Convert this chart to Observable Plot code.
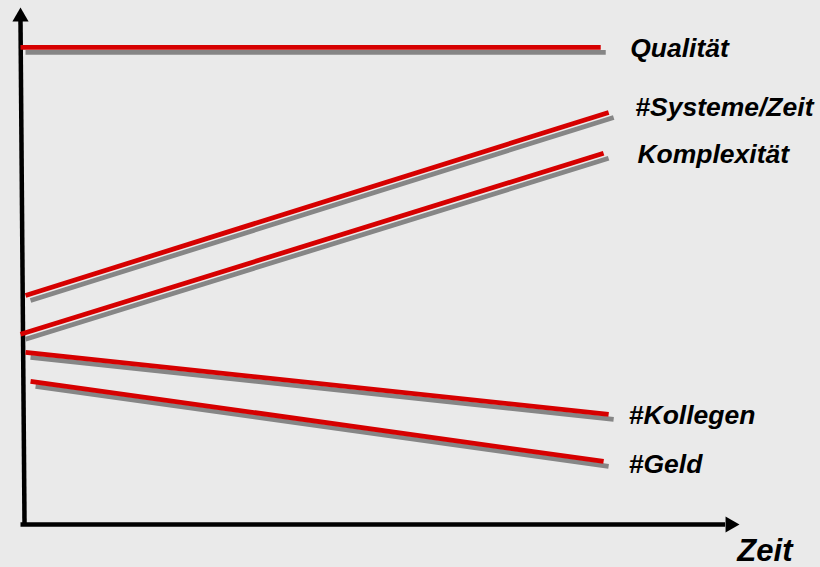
<!DOCTYPE html>
<html>
<head>
<meta charset="utf-8">
<script src="https://cdn.jsdelivr.net/npm/d3@7"></script>
<script src="https://cdn.jsdelivr.net/npm/@observablehq/plot@0.6"></script>
<style>
  html, body { margin: 0; padding: 0; background: #eaeaea; }
  #chart svg { display: block; }
</style>
</head>
<body>
<div id="chart"></div>
<script>
// Series (conceptual trends over time; arbitrary units 0–10)
const seriesNames  = ["Qualität", "#Systeme/Zeit", "Komplexität", "#Kollegen", "#Geld"];
const startTime    = [0.00, 0.07, 0.00, 0.07, 0.14];
const startLevel   = [9.23, 4.43, 3.68, 3.33, 2.77];
const endTime      = [8.07, 8.18, 8.11, 8.18, 8.11];
const endLevel     = [9.23, 7.97, 7.18, 2.13, 1.22];

// Series label anchor positions (data units)
const labelTime    = [8.48, 8.55, 8.58, 8.46, 8.46];
const labelLevel   = [9.05, 7.91, 7.00, 1.95, 0.99];

// Axis
const axisTitle    = "Zeit";
const axisMax      = 10;

const rows = seriesNames.map((name, i) => ({
  name,
  x1: startTime[i], y1: startLevel[i],
  x2: endTime[i],   y2: endLevel[i],
  lx: labelTime[i], ly: labelLevel[i]
}));

const font = "'Liberation Sans', Arial, sans-serif";

const chart = Plot.plot({
  width: 820,
  height: 567,
  marginLeft: 20,
  marginRight: 81,
  marginTop: 7,
  marginBottom: 43,
  x: {domain: [0, axisMax], axis: null},
  y: {domain: [0, axisMax], axis: null},
  style: {background: "#eaeaea", overflow: "visible"},
  marks: [
    // axes
    Plot.link([{x1: 0.056, y1: 0, x2: 0, y2: axisMax * 0.975}], {
      x1: "x1", y1: "y1", x2: "x2", y2: "y2",
      stroke: "black", strokeWidth: 4.5, strokeLinecap: "butt"
    }),
    Plot.link([{x1: 0, y1: 0, x2: axisMax * 0.98, y2: 0}], {
      x1: "x1", y1: "y1", x2: "x2", y2: "y2",
      stroke: "black", strokeWidth: 4.5, strokeLinecap: "butt"
    }),
    Plot.dot([{x: 0, y: axisMax}], {
      x: "x", y: "y", symbol: "triangle", r: 6, fill: "black", stroke: "none", dy: 9.3
    }),
    Plot.dot([{x: axisMax, y: 0}], {
      x: "x", y: "y", symbol: "triangle", r: 6, fill: "black", stroke: "none", rotate: 90, dx: -9.3
    }),
    // shadows
    Plot.link(rows, {
      x1: "x1", y1: "y1", x2: "x2", y2: "y2",
      stroke: "#868686", strokeWidth: 4.8, strokeLinecap: "butt", dx: 5, dy: 5
    }),
    // red lines
    Plot.link(rows, {
      x1: "x1", y1: "y1", x2: "x2", y2: "y2",
      stroke: "#d60000", strokeWidth: 4.8, strokeLinecap: "butt"
    }),
    // labels
    Plot.text(rows, {
      x: "lx", y: "ly", text: "name",
      textAnchor: "start", lineAnchor: "bottom",
      fontFamily: font, fontWeight: "bold", fontStyle: "italic", fontSize: 26.5, fill: "black"
    }),
    Plot.text([axisTitle], {
      x: axisMax * 0.997, y: -0.70, text: d => d,
      textAnchor: "start", lineAnchor: "bottom",
      fontFamily: font, fontWeight: "bold", fontStyle: "italic", fontSize: 31, fill: "black"
    })
  ]
});
document.getElementById("chart").appendChild(chart);
</script>
</body>
</html>
